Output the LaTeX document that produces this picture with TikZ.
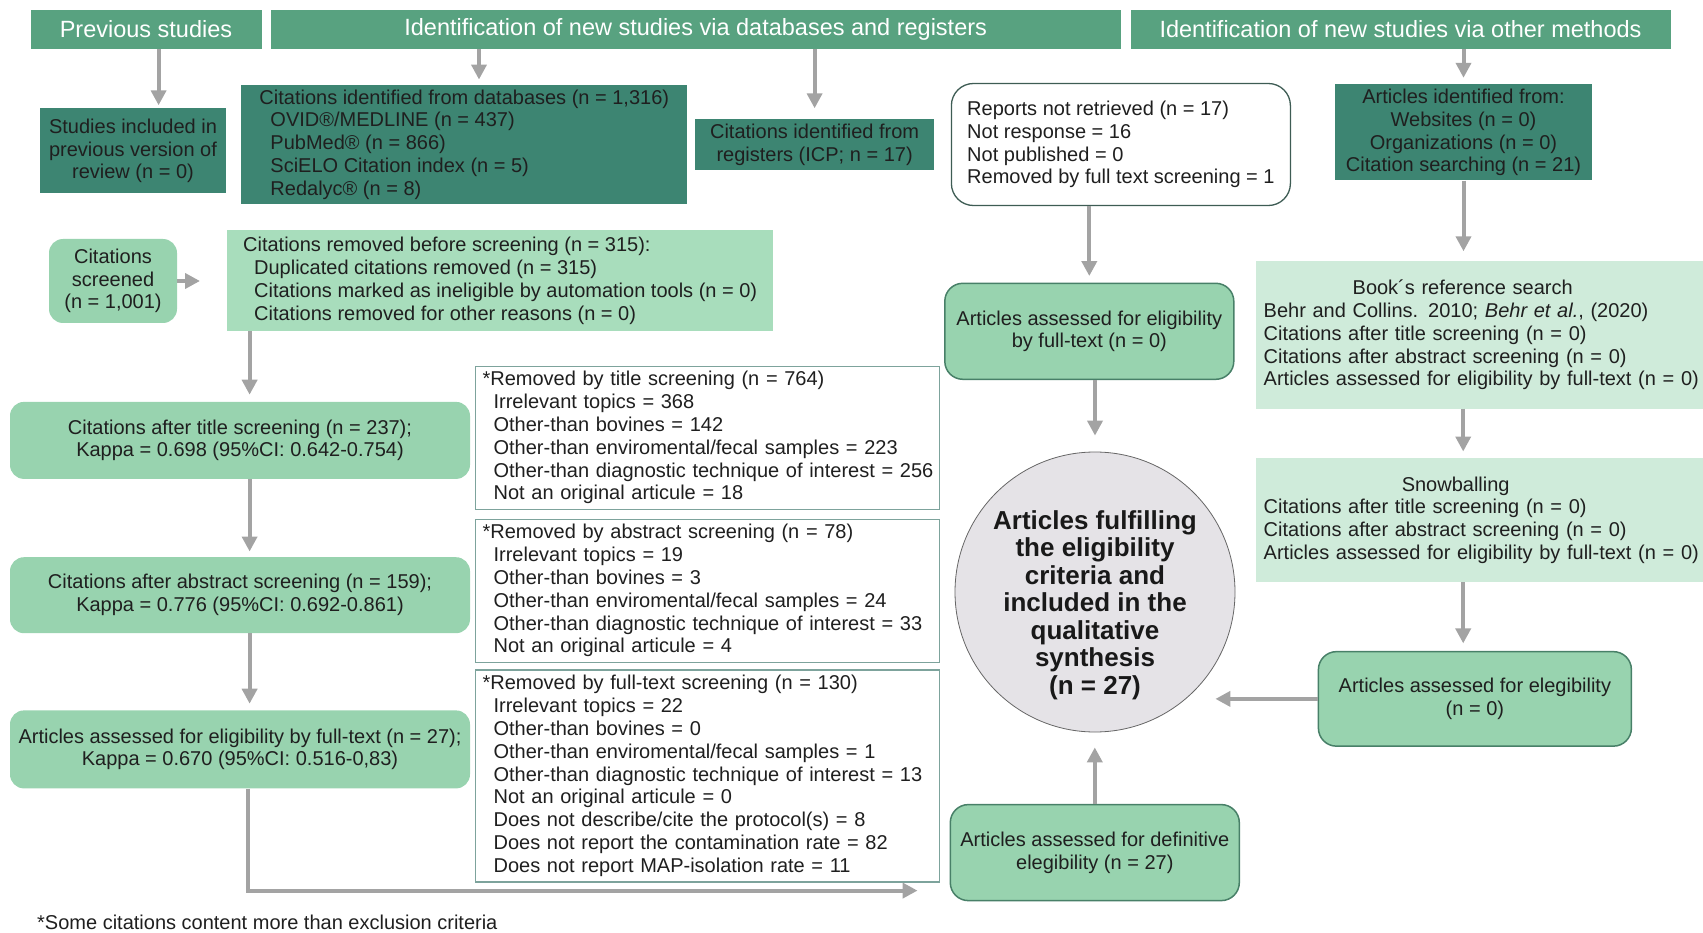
\documentclass[tikz,border=0pt]{standalone}
\usepackage{fontspec}
\setmainfont{Liberation Sans}
\usetikzlibrary{arrows.meta,positioning}
\definecolor{headgreen}{RGB}{88,162,128}
\definecolor{darkteal}{RGB}{61,133,114}
\definecolor{midgreen}{RGB}{152,211,175}
\definecolor{lightgreen}{RGB}{168,221,188}
\definecolor{palegreen}{RGB}{207,235,218}
\definecolor{circgray}{RGB}{229,227,231}
\definecolor{bordgreen}{RGB}{72,128,104}
\definecolor{repborder}{RGB}{62,92,84}
\definecolor{exclborder}{RGB}{125,163,156}
\definecolor{arrowgray}{RGB}{163,163,163}
\newcommand{\indt}{\hspace*{11pt}}
\begin{document}
\begin{tikzpicture}[
    x=1pt, y=-1pt,
    txt/.style={font=\fontsize{20}{22.8}\selectfont, text=black!88, inner sep=0pt},
    head/.style={rectangle, fill=headgreen, text=white, minimum height=39pt, inner sep=0pt, font=\fontsize{23.5}{27}\selectfont},
    dark/.style={txt, rectangle, fill=darkteal, align=center},
    rbox/.style={txt, rectangle, rounded corners=14pt, fill=midgreen, align=center},
    rbord/.style={rbox, draw=bordgreen, line width=1.5pt, rounded corners=18pt},
    light/.style={txt, rectangle, fill=lightgreen, align=left},
    pale/.style={txt, rectangle, fill=palegreen, align=left, text width=440pt, inner xsep=8pt, anchor=west},
    excl/.style={txt, rectangle, draw=exclborder, line width=1.2pt, fill=white, align=left, text width=450pt, inner xsep=7pt},
    final/.style={circle, draw=black!60, line width=0.8pt, fill=circgray, minimum size=280pt, inner sep=0pt},
    fintext/.style={align=center, inner sep=0pt, text=black!90, font=\bfseries\fontsize{26}{27.5}\selectfont},
    arrow/.style={-{Triangle[length=15pt,width=15pt]}, line width=4pt, draw=arrowgray, shorten >=6pt}
]
\useasboundingbox (0,0) rectangle (1703,933);

% Headers
\node[head, minimum width=231pt] (prevh) at (146,29.5) {Previous studies};
\node[head, minimum width=850pt] (dbh) at (695.7,29.5) {Identification of new studies via databases and registers};
\node[head, minimum width=540pt] (othh) at (1400.5,29.5) {Identification of new studies via other methods};

% Identification
\node[dark, minimum width=186pt, minimum height=85pt] (prevrev) at (133,151) {Studies included in\\previous version of\\review (n = 0)};
\node[dark, align=left, minimum width=446pt, minimum height=119.5pt] (dbcit) at (464.3,144.5) {Citations identified from databases (n = 1,316)\\\indt OVID®/MEDLINE (n = 437)\\\indt PubMed® (n = 866)\\\indt SciELO Citation index (n = 5)\\\indt Redalyc® (n = 8)};
\node[dark, minimum width=239pt, minimum height=51pt] (regcit) at (814.6,145) {Citations identified from\\registers (ICP; n = 17)};
\node[txt, rectangle, draw=repborder, line width=1.3pt, fill=white, rounded corners=22pt, align=left, minimum width=339pt, minimum height=122pt] (reports) at (1120.9,144.5) {Reports not retrieved (n = 17)\\Not response = 16\\Not published = 0\\Removed by full text screening = 1};
\node[dark, minimum width=257pt, minimum height=96pt] (othcit) at (1463.5,132.5) {Articles identified from:\\Websites (n = 0)\\Organizations (n = 0)\\Citation searching (n = 21)};

% Screening
\node[rbox, minimum width=128pt, minimum height=84pt] (scr) at (113,281) {Citations\\screened\\(n = 1,001)};
\node[light, minimum width=546pt, minimum height=101pt] (rmv) at (500.2,280.8) {Citations removed before screening (n = 315):\\\indt Duplicated citations removed (n = 315)\\\indt Citations marked as ineligible by automation tools (n = 0)\\\indt Citations removed for other reasons (n = 0)};
\node[rbox, minimum width=460pt, minimum height=77pt] (ttl) at (240,440.4) {Citations after title screening (n = 237);\\Kappa = 0.698 (95\%CI: 0.642-0.754)};
\node[rbox, minimum width=460pt, minimum height=76pt] (abs) at (240,595.2) {Citations after abstract screening (n = 159);\\Kappa = 0.776 (95\%CI: 0.692-0.861)};
\node[rbox, minimum width=460pt, minimum height=78pt] (ftx) at (240,749.4) {Articles assessed for eligibility by full-text (n = 27);\\Kappa = 0.670 (95\%CI: 0.516-0,83)};

% Exclusions
\node[excl, minimum height=143pt] (extl) at (707.6,437.7) {*Removed by title screening (n = 764)\\\indt Irrelevant topics = 368\\\indt Other-than bovines = 142\\\indt Other-than enviromental/fecal samples = 223\\\indt\mbox{Other-than diagnostic technique of interest = 256}\\\indt Not an original articule = 18};
\node[excl, minimum height=143pt] (exab) at (707.6,590.8) {*Removed by abstract screening (n = 78)\\\indt Irrelevant topics = 19\\\indt Other-than bovines = 3\\\indt Other-than enviromental/fecal samples = 24\\\indt\mbox{Other-than diagnostic technique of interest = 33}\\\indt Not an original articule = 4};
\node[excl, minimum height=212pt] (exft) at (707.6,776) {*Removed by full-text screening (n = 130)\\\indt Irrelevant topics = 22\\\indt Other-than bovines = 0\\\indt Other-than enviromental/fecal samples = 1\\\indt\mbox{Other-than diagnostic technique of interest = 13}\\\indt Not an original articule = 0\\\indt Does not describe/cite the protocol(s) = 8\\\indt Does not report the contamination rate = 82\\\indt Does not report MAP-isolation rate = 11};

% Other methods
\node[pale, minimum height=147pt] (book) at (1255.5,335) {\hfill Book´s reference search\hfill\hspace*{42pt}\null\\Behr and Collins. 2010; \textit{Behr et al.}, (2020)\\Citations after title screening (n = 0)\\Citations after abstract screening (n = 0)\\Articles assessed for eligibility by full-text (n = 0)};
\node[pale, minimum height=124pt] (snow) at (1255.5,520.2) {\hfill Snowballing\hfill\hspace*{56pt}\null\\Citations after title screening (n = 0)\\Citations after abstract screening (n = 0)\\Articles assessed for eligibility by full-text (n = 0)};
\node[rbord, minimum width=313pt, minimum height=94.5pt] (eleg) at (1474.9,698.9) {Articles assessed for elegibility\\(n = 0)};

% Included
\node[rbord, minimum width=289pt, minimum height=96pt] (midft) at (1089.3,331.3) {Articles assessed for eligibility\\by full-text (n = 0)};
\node[final] (circ) at (1095,592) {};
\node[fintext] (circtxt) at ([yshift=-13pt]circ.center) {Articles fulfilling\\the eligibility\\criteria and\\included in the\\qualitative\\synthesis\\(n = 27)};
\node[rbord, minimum width=289pt, minimum height=96pt] (defin) at (1094.8,852.6) {Articles assessed for definitive\\elegibility (n = 27)};

% Note
\node[txt, anchor=west] (note) at (37,922) {*Some citations content more than exclusion criteria};

% Arrows from headers
\draw[arrow, shorten >=3pt] ([xshift=12.6pt]prevh.south) -- ([xshift=12.6pt]prevh.south |- prevrev.north);
\draw[arrow, shorten >=5pt] ([xshift=14.7pt]dbcit.north |- dbh.south) -- ([xshift=14.7pt]dbcit.north);
\draw[arrow, shorten >=11pt] (dbh.south -| regcit.north) -- (regcit.north);
\draw[arrow, shorten >=6.5pt] (othh.south -| othcit.north) -- (othcit.north);

% Left column
\draw[arrow, shorten >=27pt] (scr.east) -- (scr.east -| rmv.west);
\draw[arrow, shorten >=7pt] ([xshift=9.6pt]ttl.north |- rmv.south) -- ([xshift=9.6pt]ttl.north);
\draw[arrow, shorten >=5.5pt] ([xshift=9.6pt]ttl.south) -- ([xshift=9.6pt]abs.north);
\draw[arrow, shorten >=6.5pt] ([xshift=9.6pt]abs.south) -- ([xshift=9.6pt]ftx.north);
\draw[arrow, shorten >=32pt] ([xshift=7.6pt]ftx.south) |- ([yshift=-38pt]defin.west);

% Middle column
\draw[arrow, shorten >=6.5pt] (reports.south -| midft.north) -- (midft.north);
\draw[arrow, shorten >=16pt] (midft.south -| circ.north) -- (circ.north);
\draw[arrow, shorten >=15pt] (defin.north) -- (defin.north |- circ.south);

% Right column
\draw[arrow, shorten >=10pt] (othcit.south) -- (othcit.south |- book.north);
\draw[arrow, shorten >=6.5pt] ([xshift=-20.5pt]book.south) -- ([xshift=-20.5pt]snow.north);
\draw[arrow, shorten >=7.5pt] ([xshift=-20.5pt]snow.south) -- ([xshift=-20.5pt]snow.south |- eleg.north);
\draw[arrow, shorten >=-20pt] (eleg.west) -- (eleg.west -| circ.east);
\end{tikzpicture}
\end{document}
